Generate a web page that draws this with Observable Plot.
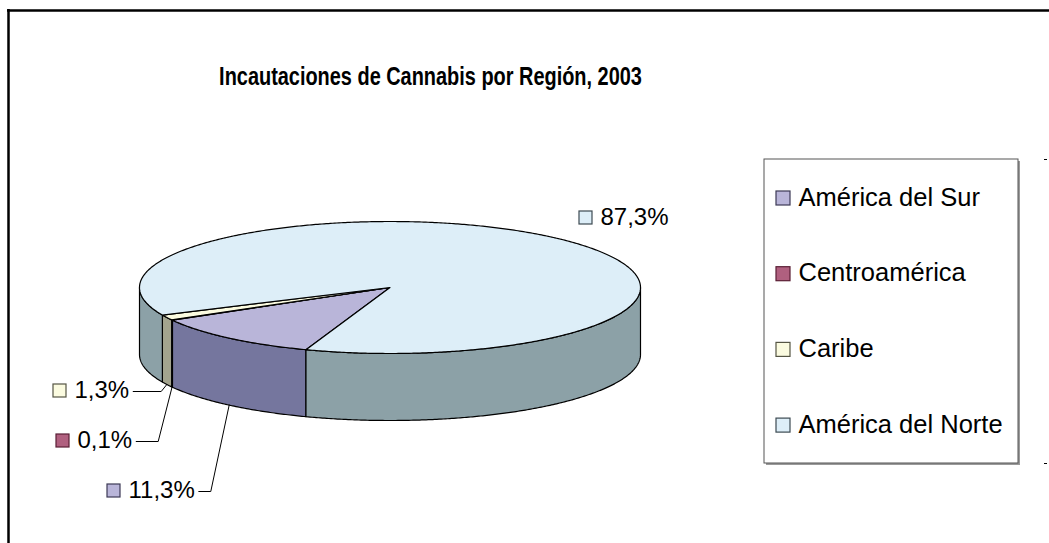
<!DOCTYPE html>
<html><head><meta charset="utf-8">
<script src="https://cdn.jsdelivr.net/npm/d3@7"></script>
<script src="https://cdn.jsdelivr.net/npm/@observablehq/plot@0.6"></script>
<style>
body{margin:0;background:#fff;}
svg{display:block;}
</style>
</head><body><div id="chart"></div>
<script>
// ---- data ----
const regions = ["América del Sur", "Centroamérica", "Caribe", "América del Norte"];
const shares = [11.3, 0.1, 1.3, 87.3];
const shareLabels = ["11,3%", "0,1%", "1,3%", "87,3%"];
const title = "Incautaciones de Cannabis por Región, 2003";

// ---- styles ----
const topColors = ["#b9b5d9", "#b0607f", "#fbfbe0", "#ddeef8"];
const sideColors = ["#75769e", "#7d4259", "#a3a48e", "#8ca1a7"];
const swatchStroke = ["#3c3a55", "#5a1f35", "#555544", "#3d4a52"];
const FONT = "'Liberation Sans', Arial, sans-serif";

// ---- layout ----
const W = 1049, H = 543;
const pie = {cx: 389.5, cy: 287, rx: 250.5, ry: 66, depth: 67, start: 109.6};
const labelAt = [[128, 490], [77, 440], [74, 390], [600, 217]]; // text left, middle
const elbow = [12, 22, 28, 0];
const legendBox = {x1: 764, y1: 159, x2: 1018, y2: 463};
const legendY0 = 197, legendStep = 75.7;
const TITLE_FS = 25, TITLE_W = 423;

const rad = Math.PI / 180;
const total = d3.sum(shares);
let acc = pie.start * rad;
const slices = regions.map((r, i) => {
  const a0 = acc, a1 = acc + shares[i] / total * 2 * Math.PI;
  acc = a1;
  return {i, a0, a1, mid: (a0 + a1) / 2};
});
const px = a => pie.cx + pie.rx * Math.cos(a);
const py = (a, dz = 0) => pie.cy + dz + pie.ry * Math.sin(a);
function arc(a0, a1, dz = 0) {
  const n = Math.max(2, Math.ceil((a1 - a0) / (0.5 * rad)));
  return d3.range(n + 1).map(k => { const a = a0 + (a1 - a0) * k / n; return [px(a), py(a, dz)]; });
}

// side faces (front half only)
const sideRows = [];
slices.forEach(s => {
  [0, 1, 2].forEach(k => {
    const lo = Math.max(s.a0, k * 2 * Math.PI), hi = Math.min(s.a1, k * 2 * Math.PI + Math.PI);
    if (hi > lo) {
      const pts = arc(lo, hi).concat(arc(lo, hi, pie.depth).reverse());
      pts.forEach(p => sideRows.push({id: `s${s.i}-${k}`, x: p[0], y: p[1], fill: sideColors[s.i]}));
    }
  });
});
// top faces
const topRows = [];
slices.forEach(s => {
  const pts = [[pie.cx, pie.cy]].concat(arc(s.a0, s.a1));
  pts.forEach(p => topRows.push({id: `t${s.i}`, x: p[0], y: p[1], fill: topColors[s.i]}));
});

// text measurement
const ctx = document.createElement("canvas").getContext("2d");
function textW(t, size, weight = "normal") { ctx.font = `${weight} ${size}px ${FONT}`; return ctx.measureText(t).width; }

const LABEL_FS = 24;
const labels = slices.map(s => ({
  i: s.i, text: shareLabels[s.i], x: labelAt[s.i][0], y: labelAt[s.i][1],
  w: textW(shareLabels[s.i], LABEL_FS)
}));
// leader lines for the small front slices
const leaderRows = [];
labels.forEach(l => {
  if (elbow[l.i] <= 0) return;
  const s = slices[l.i];
  const x0 = l.x + l.w + 4;
  const pts = [[x0, l.y + 1], [x0 + elbow[l.i], l.y + 1], [px(s.mid), py(s.mid, pie.depth)]];
  pts.forEach(p => leaderRows.push({id: l.i, x: p[0], y: p[1]}));
});

const legend = regions.map((r, i) => ({i, text: r, y: legendY0 + i * legendStep}));

const chart = Plot.plot({
  width: W, height: H, margin: 0,
  x: {domain: [0, W], range: [0, W], axis: null},
  y: {domain: [0, H], range: [0, H], axis: null},
  color: {type: "identity"},
  style: {fontFamily: FONT, background: "#fff", color: "#000"},
  marks: [
    // outer frame
    Plot.ruleY([10], {x1: 7, x2: W, stroke: "#000", strokeWidth: 2.5}),
    Plot.ruleX([8], {y1: 9, y2: H, stroke: "#000", strokeWidth: 2.5}),
    Plot.ruleY([legendBox.y1, legendBox.y2], {x1: 1044, x2: 1047, stroke: "#000", strokeWidth: 1}),
    // title
    Plot.text([title], {x: 430, y: 76, text: d => d, fontSize: TITLE_FS, fontWeight: "bold", fill: "#000"}),
    // pie sides then tops
    Plot.line(sideRows, {x: "x", y: "y", z: "id", fill: "fill", stroke: "#000", strokeWidth: 1.2, curve: "linear-closed", strokeLinejoin: "round"}),
    Plot.line(topRows, {x: "x", y: "y", z: "id", fill: "fill", stroke: "#000", strokeWidth: 1.2, curve: "linear-closed", strokeLinejoin: "round"}),
    // leader lines
    Plot.line(leaderRows, {x: "x", y: "y", z: "id", stroke: "#000", strokeWidth: 1}),
    // data label swatches + texts
    Plot.rect(labels, {x1: d => d.x - 21, x2: d => d.x - 8, y1: d => d.y - 6, y2: d => d.y + 7,
      fill: d => topColors[d.i], stroke: d => swatchStroke[d.i], strokeWidth: 1.2}),
    Plot.text(labels, {x: "x", y: "y", text: "text", textAnchor: "start", fontSize: LABEL_FS, fill: "#000"}),
    // legend
    Plot.rect([legendBox], {x1: d => d.x1 + 2, x2: d => d.x2 + 2, y1: d => d.y1 + 2, y2: d => d.y2 + 2, fill: "#9a9a9a"}),
    Plot.rect([legendBox], {x1: "x1", x2: "x2", y1: "y1", y2: "y2", fill: "#fff", stroke: "#555", strokeWidth: 1}),
    Plot.rect(legend, {x1: 776, x2: 790, y1: d => d.y - 6, y2: d => d.y + 8,
      fill: d => topColors[d.i], stroke: d => swatchStroke[d.i], strokeWidth: 1.2}),
    Plot.text(legend, {x: 798, y: "y", text: "text", textAnchor: "start", fontSize: 25.5, fill: "#000"})
  ]
});
// the reference title is set in a condensed bold face: squeeze it horizontally to its width
const sx = TITLE_W / textW(title, TITLE_FS, "bold");
chart.querySelectorAll("text").forEach(t => {
  if (t.textContent === title) {
    const tr = t.getAttribute("transform");
    if (tr) t.setAttribute("transform", tr + ` scale(${sx.toFixed(3)},1)`);
    else {
      const x = +t.getAttribute("x") || 0, y = +t.getAttribute("y") || 0;
      t.setAttribute("transform", `translate(${x},${y}) scale(${sx.toFixed(3)},1)`);
      t.setAttribute("x", 0); t.setAttribute("y", 0);
    }
  }
});
document.getElementById("chart").appendChild(chart);
</script>
</body></html>
